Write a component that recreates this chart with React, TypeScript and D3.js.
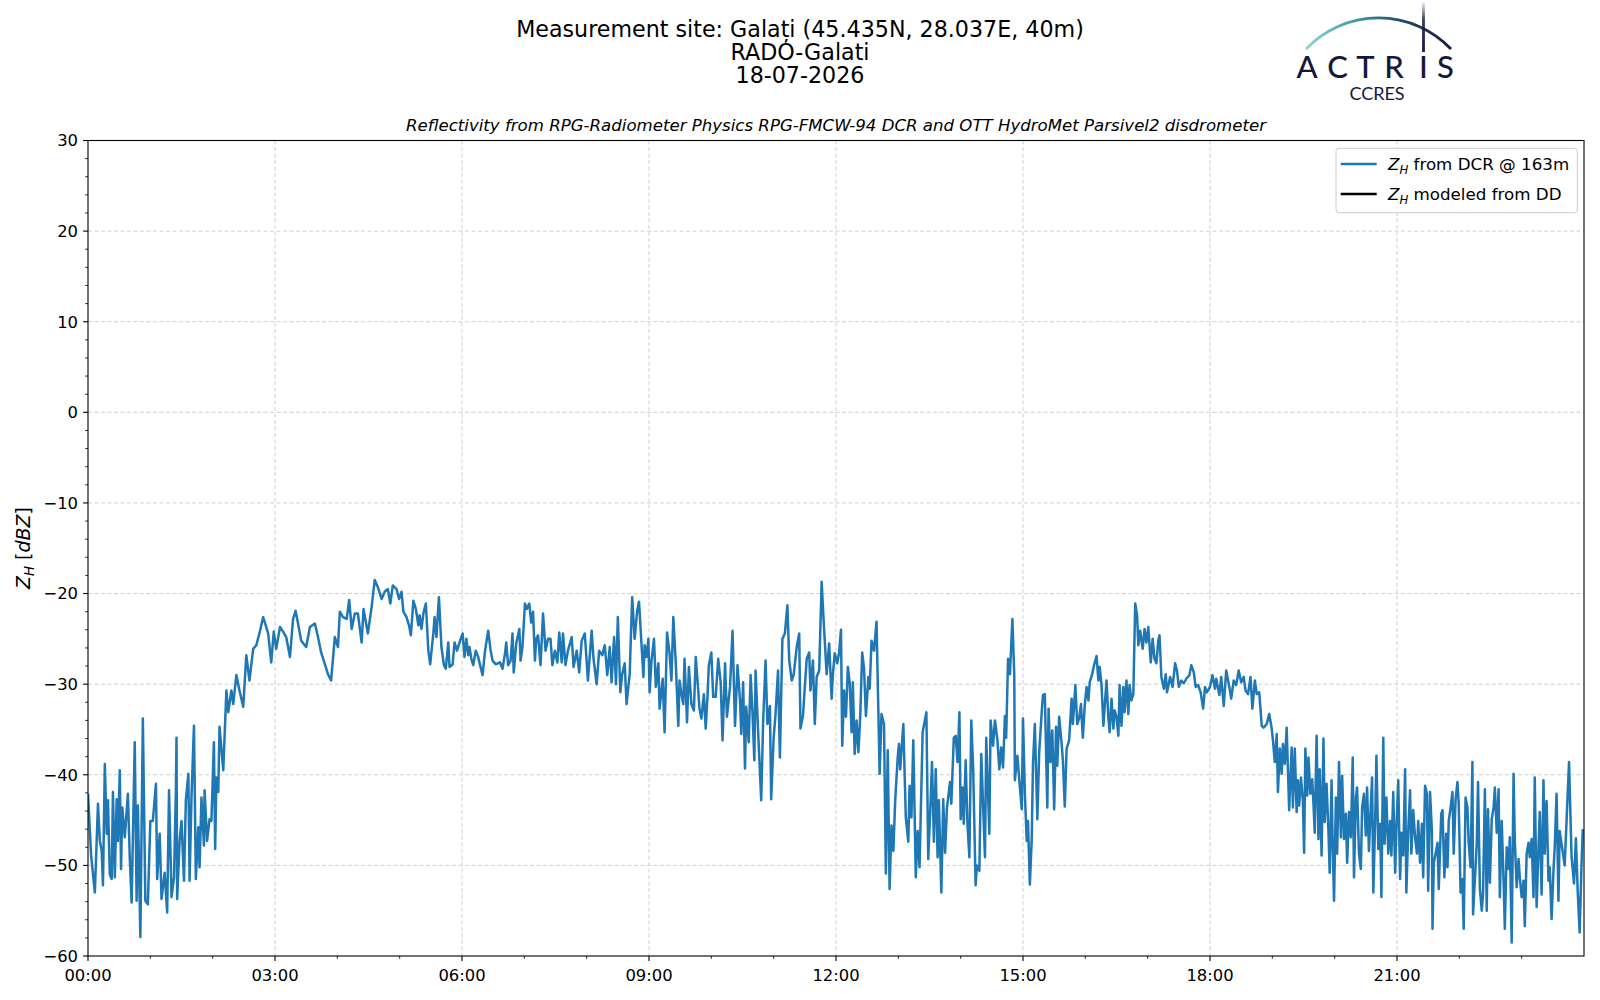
import React from 'react';
import * as d3 from 'd3';

// ---------------- DATA ----------------
const TITLE_LINES = ['Measurement site: Galați (45.435N, 28.037E, 40m)', 'RADO-Galati', '18-07-2026'];
const SUBTITLE = 'Reflectivity from RPG-Radiometer Physics RPG-FMCW-94 DCR and OTT HydroMet Parsivel2 disdrometer';
const Y_MAJOR_TICKS = [-60, -50, -40, -30, -20, -10, 0, 10, 20, 30];
const Y_MINOR_TICKS = d3.range(-60, 31, 2);
const X_MAJOR_HOURS = [0, 3, 6, 9, 12, 15, 18, 21];
const X_TICK_LABELS = ['00:00', '03:00', '06:00', '09:00', '12:00', '15:00', '18:00', '21:00'];
const X_MINOR_HOURS = d3.range(0, 24, 1);
const LEGEND_LABELS = [' from DCR @ 163m', ' modeled from DD'];
const LEGEND_COLORS = ['#1f77b4', '#000000'];

// [hour of day, Z_H dBZ]
const dcr_00_05: [number, number][] = [
  [0.00,-42.1],[0.05,-48.9],[0.11,-53.0],[0.16,-43.2],[0.19,-47.3],[0.22,-48.4],[0.24,-52.2],[0.27,-38.8],[0.30,-46.5],[0.32,-42.8],
  [0.35,-51.0],[0.38,-51.5],[0.40,-41.9],[0.43,-51.3],[0.46,-42.7],[0.48,-47.3],[0.51,-39.5],[0.53,-50.4],[0.55,-43.6],[0.59,-46.9],
  [0.64,-42.1],[0.67,-49.1],[0.70,-54.1],[0.75,-36.4],[0.78,-53.9],[0.80,-43.4],[0.84,-57.9],[0.88,-33.8],[0.92,-53.9],[0.96,-54.3],
  [1.00,-45.1],[1.04,-45.1],[1.09,-41.0],[1.11,-51.5],[1.15,-46.5],[1.18,-53.7],[1.23,-50.8],[1.27,-55.2],[1.30,-41.7],[1.34,-53.5],
  [1.38,-51.3],[1.41,-41.7],[1.42,-35.9],[1.43,-53.7],[1.47,-47.3],[1.50,-45.1],[1.54,-51.7],[1.57,-42.8],[1.61,-39.9],[1.63,-51.7],
  [1.66,-42.5],[1.70,-34.6],[1.73,-51.5],[1.77,-45.8],[1.79,-50.2],[1.82,-42.5],[1.86,-47.8],[1.87,-41.7],[1.91,-47.3],[1.95,-44.9],
  [1.98,-45.1],[2.02,-36.4],[2.04,-48.2],[2.06,-40.3],[2.09,-41.9],[2.11,-34.7],[2.17,-39.5],[2.22,-30.7],[2.25,-33.1],[2.30,-30.7],
  [2.33,-32.2],[2.38,-29.0],[2.43,-30.7],[2.49,-32.5],[2.54,-26.8],[2.59,-29.6],[2.65,-26.1],[2.70,-25.7],[2.76,-24.1],[2.81,-22.6],
  [2.86,-23.7],[2.89,-24.4],[2.94,-27.6],[2.98,-24.2],[3.02,-26.1],[3.08,-23.7],[3.13,-24.2],[3.18,-24.8],[3.24,-27.0],[3.29,-22.8],
  [3.33,-21.9],[3.37,-23.3],[3.42,-25.2],[3.50,-25.9],[3.56,-23.7],[3.64,-23.3],[3.69,-24.8],[3.74,-26.5],[3.80,-27.8],[3.85,-28.9],
  [3.90,-29.6],[3.96,-24.8],[4.01,-25.9],[4.04,-22.0],[4.09,-22.6],[4.15,-22.8],[4.19,-20.7],[4.23,-23.9],[4.28,-22.2],[4.33,-22.2],
  [4.39,-25.4],[4.42,-21.7],[4.49,-24.4],[4.55,-21.5],[4.60,-18.5],[4.65,-19.3],
];
const dcr_05_08: [number, number][] = [
  [4.71,-20.6],[4.76,-19.8],[4.81,-19.5],[4.85,-21.1],[4.89,-19.1],[4.95,-19.5],[4.99,-20.6],[5.03,-19.8],[5.06,-22.0],[5.11,-22.6],
  [5.15,-23.5],[5.18,-24.6],[5.22,-20.8],[5.26,-21.7],[5.30,-23.5],[5.32,-22.4],[5.35,-23.9],[5.38,-22.2],[5.42,-21.1],[5.46,-26.3],
  [5.49,-27.8],[5.54,-24.4],[5.56,-22.6],[5.59,-24.8],[5.63,-20.4],[5.67,-25.9],[5.71,-27.9],[5.74,-28.3],[5.78,-25.4],[5.80,-28.1],
  [5.85,-27.8],[5.88,-25.4],[5.92,-26.3],[5.96,-25.4],[6.01,-24.4],[6.04,-27.0],[6.07,-25.0],[6.10,-26.8],[6.12,-25.9],[6.15,-27.2],
  [6.18,-27.9],[6.22,-26.3],[6.26,-27.0],[6.29,-27.9],[6.33,-29.0],[6.37,-26.3],[6.42,-24.1],[6.46,-26.3],[6.49,-27.4],[6.54,-27.8],
  [6.61,-27.6],[6.65,-28.3],[6.69,-26.6],[6.71,-25.4],[6.74,-27.9],[6.78,-27.4],[6.81,-24.4],[6.83,-28.7],[6.87,-25.5],[6.92,-23.9],
  [6.94,-27.4],[6.97,-25.9],[7.01,-21.1],[7.04,-21.7],[7.08,-21.1],[7.11,-23.2],[7.14,-22.0],[7.17,-27.4],[7.19,-25.0],[7.22,-24.6],
  [7.26,-27.9],[7.30,-22.2],[7.34,-26.3],[7.38,-25.0],[7.42,-25.0],[7.45,-27.9],[7.49,-26.3],[7.53,-27.6],[7.56,-24.3],[7.60,-27.6],
  [7.62,-24.4],[7.66,-27.9],[7.70,-26.3],[7.76,-24.8],[7.79,-28.1],[7.84,-26.3],[7.88,-28.7],[7.92,-25.2],[7.97,-24.4],[8.02,-29.6],
  [8.08,-24.1],[8.11,-27.2],[8.16,-30.0],[8.20,-26.3],
];
const dcr_08_12: [number, number][] = [
  [8.25,-26.8],[8.29,-25.7],[8.33,-29.0],[8.37,-25.9],[8.40,-29.8],[8.44,-24.8],[8.47,-30.0],[8.50,-22.6],[8.54,-30.9],[8.57,-28.9],
  [8.61,-27.7],[8.64,-32.2],[8.69,-28.9],[8.73,-20.4],[8.77,-25.0],[8.81,-21.9],[8.84,-20.9],[8.91,-29.2],[8.93,-25.7],[8.96,-27.0],
  [8.99,-25.0],[9.01,-30.9],[9.04,-27.4],[9.08,-25.0],[9.11,-30.3],[9.15,-27.7],[9.17,-32.7],[9.22,-29.4],[9.25,-35.3],[9.29,-24.3],
  [9.33,-26.6],[9.36,-29.6],[9.39,-22.6],[9.43,-27.7],[9.47,-34.6],[9.49,-29.6],[9.52,-31.1],[9.55,-32.2],[9.57,-27.2],[9.61,-34.2],
  [9.64,-28.1],[9.68,-32.2],[9.72,-32.9],[9.75,-27.0],[9.79,-30.7],[9.81,-32.7],[9.84,-33.8],[9.88,-31.1],[9.91,-34.9],[9.94,-31.1],
  [9.96,-27.9],[10.00,-26.5],[10.03,-31.4],[10.07,-31.4],[10.11,-27.2],[10.15,-29.8],[10.18,-36.2],[10.22,-27.7],[10.25,-33.6],[10.30,-30.3],
  [10.34,-24.1],[10.38,-34.6],[10.42,-27.9],[10.46,-31.8],[10.48,-35.5],[10.51,-29.8],[10.54,-39.3],[10.56,-32.5],[10.60,-36.4],[10.63,-29.0],
  [10.66,-33.1],[10.69,-38.4],[10.71,-28.5],[10.75,-35.1],[10.80,-42.8],[10.83,-34.4],[10.87,-27.4],[10.90,-34.4],[10.94,-32.4],[10.96,-42.7],
  [11.00,-35.9],[11.03,-33.3],[11.07,-28.5],[11.10,-38.1],[11.14,-25.0],[11.18,-24.4],[11.22,-21.3],[11.25,-27.4],[11.29,-29.6],[11.32,-29.0],
  [11.37,-25.9],[11.41,-24.4],[11.43,-34.9],[11.47,-33.5],[11.50,-30.3],[11.53,-27.2],[11.57,-26.5],[11.59,-30.7],[11.63,-27.4],[11.66,-34.4],
  [11.69,-29.2],[11.73,-28.5],[11.77,-18.7],[11.80,-22.8],[11.85,-28.9],[11.89,-25.5],
];
const dcr_12_16: [number, number][] = [
  [11.93,-31.6],[11.95,-28.9],[11.98,-26.6],[12.02,-27.7],[12.05,-26.5],[12.08,-24.0],[12.10,-36.8],[12.13,-30.7],[12.16,-33.6],[12.19,-28.1],
  [12.22,-29.9],[12.25,-35.3],[12.27,-29.8],[12.30,-37.7],[12.33,-34.0],[12.36,-37.5],[12.39,-33.3],[12.42,-26.5],[12.45,-28.3],[12.48,-33.5],
  [12.52,-29.2],[12.54,-30.5],[12.57,-25.2],[12.61,-26.3],[12.65,-23.1],[12.68,-33.1],[12.70,-39.9],[12.73,-33.3],[12.77,-34.4],[12.80,-50.9],
  [12.83,-37.3],[12.86,-52.6],[12.89,-45.6],[12.92,-48.4],[12.95,-42.8],[12.99,-38.1],[13.01,-36.6],[13.03,-39.4],[13.08,-34.4],[13.12,-44.7],
  [13.16,-47.4],[13.18,-41.2],[13.21,-44.7],[13.24,-36.2],[13.28,-51.3],[13.31,-46.2],[13.34,-50.2],[13.39,-35.3],[13.42,-34.2],[13.45,-33.1],
  [13.48,-49.3],[13.52,-42.5],[13.54,-38.6],[13.57,-47.4],[13.60,-39.4],[13.63,-49.1],[13.65,-42.8],[13.69,-53.0],[13.72,-42.7],[13.75,-48.6],
  [13.78,-43.6],[13.83,-40.8],[13.85,-43.2],[13.89,-35.9],[13.92,-35.7],[13.95,-38.6],[13.98,-33.1],[14.00,-44.9],[14.03,-41.4],[14.05,-45.4],
  [14.08,-38.4],[14.11,-45.6],[14.14,-49.1],[14.17,-34.0],[14.20,-39.2],[14.24,-52.2],[14.26,-50.0],[14.30,-50.6],[14.33,-37.7],[14.36,-43.4],
  [14.39,-49.1],[14.41,-35.9],[14.46,-46.5],[14.48,-34.0],[14.52,-36.8],[14.55,-34.0],[14.59,-36.2],[14.62,-39.4],[14.65,-37.0],[14.68,-39.2],
  [14.71,-33.5],[14.73,-35.9],[14.76,-27.2],[14.79,-28.9],[14.83,-22.8],[14.86,-29.0],[14.87,-40.6],[14.91,-37.9],[14.95,-41.4],[14.98,-43.8],
  [15.00,-33.8],[15.03,-42.1],[15.06,-47.3],[15.08,-45.1],[15.11,-52.1],[15.14,-47.1],[15.16,-38.8],[15.19,-34.4],[15.23,-44.9],[15.26,-37.5],
  [15.30,-33.1],[15.32,-31.2],[15.35,-31.1],[15.39,-43.6],[15.41,-32.7],[15.44,-38.6],[15.47,-35.1],[15.50,-43.8],[15.53,-34.7],[15.55,-39.0],
  [15.58,-33.6],[15.62,-36.6],
];
const dcr_16_19: [number, number][] = [
  [15.64,-38.4],[15.67,-43.5],[15.70,-37.1],[15.74,-36.2],[15.78,-31.6],[15.80,-34.4],[15.84,-30.1],[15.87,-34.4],[15.90,-33.8],[15.93,-32.2],
  [15.96,-35.9],[15.99,-32.4],[16.02,-30.3],[16.05,-31.8],[16.07,-29.8],[16.11,-28.9],[16.14,-27.9],[16.18,-26.9],[16.21,-29.6],[16.23,-28.1],
  [16.26,-30.1],[16.29,-34.6],[16.31,-32.5],[16.34,-29.6],[16.37,-33.8],[16.39,-35.3],[16.42,-31.6],[16.45,-34.9],[16.47,-32.9],[16.50,-33.6],
  [16.53,-35.7],[16.55,-30.1],[16.58,-34.6],[16.61,-30.3],[16.63,-33.1],[16.66,-29.6],[16.69,-33.3],[16.71,-30.1],[16.74,-31.8],[16.77,-31.1],
  [16.80,-21.1],[16.83,-22.4],[16.85,-25.7],[16.88,-24.1],[16.92,-26.1],[16.95,-23.9],[16.98,-25.4],[17.01,-23.7],[17.05,-27.6],[17.08,-25.0],
  [17.11,-27.2],[17.14,-27.7],[17.17,-25.2],[17.19,-24.6],[17.22,-29.2],[17.26,-30.5],[17.29,-28.9],[17.31,-30.9],[17.36,-29.2],[17.40,-30.3],
  [17.44,-27.7],[17.47,-28.5],[17.50,-30.3],[17.54,-29.6],[17.58,-29.9],[17.62,-29.4],[17.67,-29.0],[17.70,-27.9],[17.74,-28.7],[17.77,-30.3],
  [17.81,-30.1],[17.85,-30.9],[17.89,-32.7],[17.92,-30.3],[17.95,-30.9],[18.00,-30.3],[18.04,-29.0],[18.08,-30.5],[18.10,-29.4],[18.15,-31.2],
  [18.18,-29.2],[18.22,-32.4],[18.26,-28.5],[18.31,-30.3],[18.34,-31.6],[18.38,-29.6],[18.42,-30.1],[18.46,-28.5],[18.50,-29.8],[18.54,-29.2],
  [18.57,-30.7],[18.61,-31.1],[18.65,-29.2],[18.68,-32.7],[18.72,-29.6],[18.75,-31.1],[18.79,-30.9],[18.83,-34.6],[18.86,-34.8],[18.91,-34.4],
  [18.95,-33.3],[18.99,-34.9],[19.01,-36.2],[19.04,-38.6],[19.07,-35.5],[19.09,-41.9],[19.12,-37.1],[19.15,-39.9],[19.17,-36.6],[19.20,-38.8],
  [19.23,-34.8],[19.27,-43.9],[19.31,-37.0],[19.33,-43.6],[19.36,-37.1],[19.39,-44.1],[19.41,-40.6],
];
const dcr_19_24: [number, number][] = [
  [19.43,-43.4],[19.46,-40.3],[19.49,-42.9],[19.51,-48.6],[19.53,-37.1],[19.56,-42.3],[19.58,-38.1],[19.61,-42.1],[19.64,-40.5],[19.66,-43.2],
  [19.68,-46.4],[19.71,-35.7],[19.74,-47.1],[19.76,-39.4],[19.79,-48.9],[19.82,-36.0],[19.84,-45.2],[19.87,-41.0],[19.90,-46.2],[19.92,-50.8],
  [19.95,-40.6],[19.97,-48.4],[19.99,-53.9],[20.02,-42.5],[20.04,-48.7],[20.07,-38.6],[20.10,-46.9],[20.12,-40.1],[20.15,-47.1],[20.18,-44.3],
  [20.20,-49.7],[20.23,-44.1],[20.26,-46.9],[20.29,-38.1],[20.31,-51.3],[20.34,-42.5],[20.36,-41.4],[20.39,-48.7],[20.42,-50.4],[20.44,-43.6],
  [20.47,-42.1],[20.50,-46.7],[20.52,-41.4],[20.55,-48.4],[20.58,-43.4],[20.60,-40.3],[20.62,-53.0],[20.65,-44.9],[20.67,-37.9],[20.70,-48.2],
  [20.73,-45.4],[20.75,-53.5],[20.78,-35.9],[20.80,-47.6],[20.83,-42.5],[20.86,-48.7],[20.89,-45.1],[20.91,-48.9],[20.94,-41.9],[20.97,-50.8],
  [20.99,-46.0],[21.02,-40.6],[21.05,-51.5],[21.07,-46.4],[21.10,-48.9],[21.13,-39.4],[21.15,-53.0],[21.18,-46.2],[21.21,-41.7],[21.23,-48.7],
  [21.26,-43.9],[21.29,-46.9],[21.32,-48.7],[21.34,-45.1],[21.37,-49.7],[21.40,-45.4],[21.42,-51.3],[21.45,-41.2],[21.48,-42.1],[21.50,-52.8],
  [21.53,-41.9],[21.56,-46.2],[21.57,-57.0],[21.59,-49.7],[21.62,-48.7],[21.65,-47.5],[21.67,-52.6],[21.71,-44.3],[21.73,-43.9],[21.76,-51.3],
  [21.79,-46.5],[21.81,-50.2],[21.83,-45.1],[21.86,-43.6],[21.89,-41.9],[21.91,-48.7],[21.94,-42.7],[21.97,-40.8],[21.99,-43.2],[22.02,-53.0],
  [22.05,-51.5],[22.07,-57.0],[22.10,-42.5],[22.13,-43.6],[22.15,-47.5],[22.18,-50.2],[22.21,-38.6],[22.22,-55.4],[22.25,-51.5],[22.28,-47.5],
  [22.30,-40.8],[22.33,-52.6],[22.36,-55.0],[22.38,-53.2],[22.41,-41.6],[22.44,-55.0],[22.46,-43.8],[22.49,-51.9],[22.52,-44.9],[22.55,-43.6],
  [22.57,-41.4],[22.60,-46.4],[22.63,-41.6],[22.65,-53.5],[22.68,-45.1],[22.71,-51.7],[22.73,-57.0],[22.76,-48.0],[22.79,-50.4],[22.81,-46.9],
  [22.84,-58.5],[22.87,-39.9],[22.89,-47.3],[22.92,-52.4],[22.95,-49.3],[22.97,-51.3],[23.00,-53.5],[23.03,-51.7],[23.05,-56.7],[23.08,-48.7],
  [23.11,-47.5],[23.13,-49.1],[23.16,-47.1],[23.19,-53.5],[23.21,-40.3],[23.24,-54.6],[23.27,-48.0],[23.29,-44.1],[23.32,-53.2],[23.35,-40.6],
  [23.37,-48.7],[23.40,-42.9],[23.43,-51.7],[23.45,-50.2],[23.48,-55.9],[23.51,-50.6],[23.53,-48.0],[23.56,-42.1],[23.59,-53.9],[23.61,-46.2],
  [23.69,-50.0],[23.76,-38.6],[23.80,-49.0],[23.84,-52.0],[23.87,-47.0],[23.90,-53.0],[23.93,-57.4],[23.96,-50.0],[23.98,-46.0],
];
const DCR_SERIES: [number, number][] = [
  ...dcr_00_05, ...dcr_05_08, ...dcr_08_12, ...dcr_12_16, ...dcr_16_19, ...dcr_19_24,
];

// ---------------- LAYOUT ----------------
const W = 1600;
const H = 1000;
const PL = 88;
const PR = 1584;
const PT = 140.5;
const PB = 956;
const FONT = "'DejaVu Sans', sans-serif";
const NAVY = '#14183e';

const fmtTick = (v: number) => (v < 0 ? '\u2212' + Math.abs(v) : String(v));

function ZH({ x, y, fs, rest }: { x: number; y: number; fs: number; rest: React.ReactNode }) {
  return (
    <text x={x} y={y} fontSize={fs} fontFamily={FONT} fill="#000">
      <tspan fontStyle="italic">Z</tspan>
      <tspan fontStyle="italic" fontSize={fs * 0.7} dy={fs * 0.22}>H</tspan>
      <tspan dy={-fs * 0.22}>{rest}</tspan>
    </text>
  );
}

export default function App() {
  const x = d3.scaleLinear().domain([0, 24]).range([PL, PR]);
  const y = d3.scaleLinear().domain([-60, 30]).range([PB, PT]);
  const line = d3
    .line<[number, number]>()
    .x((d) => x(d[0]))
    .y((d) => y(d[1]));
  const majorTick = 4.9;
  const minorTick = 2.8;

  return (
    <svg width={W} height={H} viewBox={`0 0 ${W} ${H}`} style={{ position: 'absolute', left: 0, top: 0, background: '#fff' }}>
      <defs>
        <clipPath id="plotClip">
          <rect x={PL} y={PT} width={PR - PL} height={PB - PT} />
        </clipPath>
        <linearGradient id="arcGrad" x1="1306" y1="0" x2="1451" y2="0" gradientUnits="userSpaceOnUse">
          <stop offset="0" stopColor="#8fd3cf" />
          <stop offset="0.35" stopColor="#3c9aa3" />
          <stop offset="0.65" stopColor="#1d4c6a" />
          <stop offset="1" stopColor={NAVY} />
        </linearGradient>
        <linearGradient id="barGrad" x1="0" y1="2" x2="0" y2="52" gradientUnits="userSpaceOnUse">
          <stop offset="0" stopColor={NAVY} stopOpacity="0.05" />
          <stop offset="0.35" stopColor={NAVY} stopOpacity="0.85" />
          <stop offset="1" stopColor={NAVY} />
        </linearGradient>
      </defs>
      <rect x={0} y={0} width={W} height={H} fill="#fff" />

      {/* Titles */}
      {TITLE_LINES.map((t, i) => (
        <text key={t} x={800} y={36.5 + i * 23.4} textAnchor="middle" fontSize={22.2} fontFamily={FONT} fill="#000">
          {t}
        </text>
      ))}
      <text x={(PL + PR) / 2} y={131} textAnchor="middle" fontSize={16.6} fontStyle="italic" fontFamily={FONT} fill="#000">
        {SUBTITLE}
      </text>

      {/* Logo */}
      <g>
        <path d="M1306,49 A100,100 0 0 1 1451,49" fill="none" stroke="url(#arcGrad)" strokeWidth={2.8} />
        <rect x={1422.1} y={2} width={2.8} height={50} fill="url(#barGrad)" />
        <text y={78} fontSize={31} fontWeight={500} fontFamily="Lato, 'DejaVu Sans', sans-serif" fill={NAVY} textAnchor="middle">
          <tspan x={1307}>A</tspan>
          <tspan x={1337.5}>C</tspan>
          <tspan x={1365.5}>T</tspan>
          <tspan x={1394}>R</tspan>
          <tspan x={1423.5}>I</tspan>
          <tspan x={1445.5}>S</tspan>
        </text>
        <text x={1377} y={100} textAnchor="middle" fontSize={18} fontFamily="Lato, 'DejaVu Sans', sans-serif" fill={NAVY}>
          CCRES
        </text>
      </g>

      {/* Grid */}
      <g stroke="#d0d0d0" strokeWidth={1} strokeDasharray="4,2.5">
        {X_MAJOR_HOURS.filter((h) => h > 0).map((h) => (
          <line key={'gx' + h} x1={x(h)} x2={x(h)} y1={PT} y2={PB} />
        ))}
        {Y_MAJOR_TICKS.filter((v) => v > -60 && v < 30).map((v) => (
          <line key={'gy' + v} x1={PL} x2={PR} y1={y(v)} y2={y(v)} />
        ))}
      </g>

      {/* Data */}
      <g clipPath="url(#plotClip)">
        <path d={line(DCR_SERIES) || ''} fill="none" stroke="#1f77b4" strokeWidth={2.5} strokeLinejoin="round" />
      </g>

      {/* Spines */}
      <rect x={PL} y={PT} width={PR - PL} height={PB - PT} fill="none" stroke="#000" strokeWidth={1.1} />

      {/* Ticks */}
      <g stroke="#000">
        {Y_MINOR_TICKS.filter((v) => v % 10 !== 0).map((v) => (
          <line key={'ym' + v} x1={PL} x2={PL - minorTick} y1={y(v)} y2={y(v)} strokeWidth={0.85} />
        ))}
        {Y_MAJOR_TICKS.map((v) => (
          <line key={'yM' + v} x1={PL} x2={PL - majorTick} y1={y(v)} y2={y(v)} strokeWidth={1.1} />
        ))}
        {X_MINOR_HOURS.filter((h) => h % 3 !== 0).map((h) => (
          <line key={'xm' + h} x1={x(h)} x2={x(h)} y1={PB} y2={PB + minorTick} strokeWidth={0.85} />
        ))}
        {X_MAJOR_HOURS.map((h) => (
          <line key={'xM' + h} x1={x(h)} x2={x(h)} y1={PB} y2={PB + majorTick} strokeWidth={1.1} />
        ))}
      </g>
      {Y_MAJOR_TICKS.map((v) => (
        <text key={'yl' + v} x={PL - 10} y={y(v)} dy="0.36em" textAnchor="end" fontSize={16.4} fontFamily={FONT} fill="#000">
          {fmtTick(v)}
        </text>
      ))}
      {X_MAJOR_HOURS.map((h, i) => (
        <text key={'xl' + h} x={x(h)} y={981} textAnchor="middle" fontSize={16.4} fontFamily={FONT} fill="#000">
          {X_TICK_LABELS[i]}
        </text>
      ))}

      {/* Y label */}
      <text x={0} y={0} transform="translate(29.5,548) rotate(-90)" textAnchor="middle" fontSize={19} fontFamily={FONT} fill="#000">
        <tspan fontStyle="italic">Z</tspan>
        <tspan fontStyle="italic" fontSize={19 * 0.7} dy={4}>H</tspan>
        <tspan dy={-4}> [</tspan>
        <tspan fontStyle="italic">dBZ</tspan>
        <tspan>]</tspan>
      </text>

      {/* Legend */}
      <rect x={1336} y={148.3} width={241.3} height={64.4} rx={3} fill="#fff" fillOpacity={0.8} stroke="#cccccc" strokeWidth={1} />
      {LEGEND_LABELS.map((lab, i) => (
        <g key={lab}>
          <line x1={1340.7} x2={1376.7} y1={164 + i * 30} y2={164 + i * 30} stroke={LEGEND_COLORS[i]} strokeWidth={2.3} />
          <ZH x={1388} y={170 + i * 30} fs={16.7} rest={lab} />
        </g>
      ))}
    </svg>
  );
}
